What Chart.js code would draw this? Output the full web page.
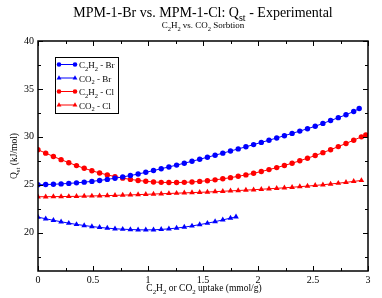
<!DOCTYPE html>
<html>
<head>
<meta charset="utf-8">
<script src="https://cdn.jsdelivr.net/npm/chart.js@4.4.1/dist/chart.umd.min.js"></script>
<style>
  html, body { margin: 0; padding: 0; background: #fff; }
  canvas { display: block; }
</style>
</head>
<body>
<canvas id="chart" width="382" height="298"></canvas>
<script>
// values
const brC2h2X = [0,0.07,0.14,0.21,0.28,0.35,0.42,0.49,0.56,0.63,0.70,0.77,0.84,0.91,0.98,1.05,1.12,1.19,1.26,1.33,1.40,1.47,1.54,1.61,1.68,1.75,1.82,1.89,1.96,2.03,2.10,2.17,2.24,2.31,2.38,2.45,2.52,2.59,2.66,2.73,2.80,2.87,2.92];
const brC2h2Y = [25.00,25.02,25.05,25.09,25.14,25.20,25.27,25.35,25.45,25.56,25.68,25.82,25.96,26.12,26.30,26.48,26.67,26.86,27.05,27.25,27.45,27.66,27.87,28.08,28.30,28.52,28.74,28.96,29.19,29.42,29.65,29.88,30.12,30.36,30.60,30.85,31.10,31.40,31.70,32.00,32.30,32.65,32.95];

const brCo2X = [0,0.07,0.14,0.21,0.28,0.35,0.42,0.49,0.56,0.63,0.70,0.77,0.84,0.91,0.98,1.05,1.12,1.19,1.26,1.33,1.40,1.47,1.54,1.61,1.68,1.75,1.80];
const brCo2Y = [21.62,21.45,21.29,21.14,20.99,20.86,20.75,20.64,20.55,20.47,20.41,20.36,20.33,20.30,20.29,20.30,20.34,20.40,20.48,20.58,20.70,20.84,20.99,21.15,21.33,21.52,21.65];

const clC2h2X = [0,0.07,0.14,0.21,0.28,0.35,0.42,0.49,0.56,0.63,0.70,0.77,0.84,0.91,0.98,1.05,1.12,1.19,1.26,1.33,1.40,1.47,1.54,1.61,1.68,1.75,1.82,1.89,1.96,2.03,2.10,2.17,2.24,2.31,2.38,2.45,2.52,2.59,2.66,2.73,2.80,2.87,2.94,2.98];
const clC2h2Y = [28.65,28.30,27.95,27.62,27.30,27.00,26.72,26.46,26.23,26.03,25.85,25.69,25.56,25.45,25.36,25.29,25.25,25.23,25.23,25.25,25.29,25.35,25.42,25.51,25.62,25.74,25.88,26.03,26.20,26.38,26.58,26.79,27.01,27.25,27.50,27.77,28.05,28.35,28.66,28.98,29.31,29.65,30.00,30.20];

const clCo2X = [0,0.07,0.14,0.21,0.28,0.35,0.42,0.49,0.56,0.63,0.70,0.77,0.84,0.91,0.98,1.05,1.12,1.19,1.26,1.33,1.40,1.47,1.54,1.61,1.68,1.75,1.82,1.89,1.96,2.03,2.10,2.17,2.24,2.31,2.38,2.45,2.52,2.59,2.66,2.73,2.80,2.87,2.94];
const clCo2Y = [23.75,23.75,23.76,23.77,23.78,23.79,23.81,23.83,23.85,23.87,23.89,23.92,23.94,23.97,24.00,24.03,24.06,24.09,24.12,24.15,24.18,24.21,24.24,24.28,24.32,24.36,24.40,24.44,24.48,24.53,24.58,24.63,24.68,24.74,24.80,24.86,24.93,25.00,25.08,25.16,25.25,25.35,25.45];

const seriesLabels = ['C_{2}H_{2} - Br', 'CO_{2} - Br', 'C_{2}H_{2} - Cl', 'CO_{2} - Cl'];
const xTicks = [0, 0.5, 1, 1.5, 2, 2.5, 3];
const xMinorTicks = [0.25, 0.75, 1.25, 1.75, 2.25, 2.75];
const yTicks = [20, 25, 30, 35, 40];
const yMinorTicks = [17.5, 22.5, 27.5, 32.5, 37.5];

const titleText = 'MPM-1-Br vs. MPM-1-Cl: Q_{st} - Experimental';
const subtitleText = 'C_{2}H_{2} vs. CO_{2} Sorbtion';
const xTitleText = 'C_{2}H_{2} or CO_{2} uptake (mmol/g)';
const yTitleText = 'Q_{st} (kJ/mol)';

const SERIF = '"Liberation Serif", "DejaVu Serif", serif';
const BLUE = '#0000ff';
const RED = '#ff0000';

const pts = (xs, ys) => xs.map((x, i) => ({ x: x, y: ys[i] }));

// split "C_{2}H_{2}" into plain / subscript runs
function parseRich(s) {
  const out = [];
  const re = /_\{([^}]*)\}/g;
  let last = 0, m;
  while ((m = re.exec(s))) {
    if (m.index > last) out.push([s.slice(last, m.index), false]);
    out.push([m[1], true]);
    last = re.lastIndex;
  }
  if (last < s.length) out.push([s.slice(last), false]);
  return out;
}

function richWidth(ctx, parts, size) {
  let w = 0;
  parts.forEach(([t, sub]) => {
    ctx.font = (sub ? size * 0.72 : size) + 'px ' + SERIF;
    w += ctx.measureText(t).width;
  });
  return w;
}

function drawRich(ctx, s, x, y, size, align) {
  const parts = parseRich(s);
  const w = richWidth(ctx, parts, size);
  let cx = align === 'center' ? x - w / 2 : x;
  ctx.textBaseline = 'alphabetic';
  ctx.textAlign = 'left';
  parts.forEach(([t, sub]) => {
    ctx.font = (sub ? size * 0.72 : size) + 'px ' + SERIF;
    ctx.fillText(t, cx, sub ? y + size * 0.3 : y);
    cx += ctx.measureText(t).width;
  });
}

const decor = {
  id: 'decor',
  afterDraw(chart) {
    const ctx = chart.ctx;
    const a = chart.chartArea;
    const xs = chart.scales.x, ys = chart.scales.y;
    ctx.save();
    ctx.fillStyle = '#000';
    ctx.strokeStyle = '#000';

    // frame and inward ticks on all four sides
    ctx.lineWidth = 1.5;
    ctx.strokeRect(a.left, a.top, a.right - a.left, a.bottom - a.top);
    ctx.lineWidth = 1;
    ctx.beginPath();
    const tickX = (v, len) => {
      const p = Math.round(xs.getPixelForValue(v)) + 0.5;
      ctx.moveTo(p, a.bottom); ctx.lineTo(p, a.bottom - len);
      ctx.moveTo(p, a.top); ctx.lineTo(p, a.top + len);
    };
    const tickY = (v, len) => {
      const p = Math.round(ys.getPixelForValue(v)) + 0.5;
      ctx.moveTo(a.left, p); ctx.lineTo(a.left + len, p);
      ctx.moveTo(a.right, p); ctx.lineTo(a.right - len, p);
    };
    xTicks.forEach(v => tickX(v, 5));
    xMinorTicks.forEach(v => tickX(v, 3));
    yTicks.forEach(v => tickY(v, 5));
    yMinorTicks.forEach(v => tickY(v, 3));
    ctx.stroke();

    // titles
    const mid = (a.left + a.right) / 2;
    drawRich(ctx, titleText, mid, 16.5, 14, 'center');
    drawRich(ctx, subtitleText, mid, 28, 9, 'center');
    drawRich(ctx, xTitleText, mid + 1, 291, 9.5, 'center');
    ctx.save();
    ctx.translate(17, (a.top + a.bottom) / 2);
    ctx.rotate(-Math.PI / 2);
    drawRich(ctx, yTitleText, 0, 0, 9.5, 'center');
    ctx.restore();

    // legend box
    const bx = 55, by = 57, bw = 63, bh = 56;
    ctx.fillStyle = '#fff';
    ctx.fillRect(bx, by, bw, bh);
    ctx.lineWidth = 1;
    ctx.strokeRect(bx + 0.5, by + 0.5, bw, bh);
    chart.data.datasets.forEach((ds, i) => {
      const y = by + 7.5 + i * 13.5;
      ctx.strokeStyle = ds.borderColor;
      ctx.lineWidth = 1;
      ctx.beginPath();
      ctx.moveTo(bx + 4, y); ctx.lineTo(bx + 20, y);
      ctx.stroke();
      ctx.fillStyle = ds.borderColor;
      [bx + 4, bx + 20].forEach(px => {
        Chart.helpers.drawPoint(ctx, { pointStyle: ds.pointStyle, radius: ds.pointRadius * 0.85, rotation: 0 }, px, y);
      });
      ctx.fillStyle = '#000';
      drawRich(ctx, seriesLabels[i], bx + 24, y + 3.5, 9, 'left');
    });
    ctx.restore();
  }
};

const mkSet = (data, color, style, r) => ({
  data: data,
  borderColor: color,
  backgroundColor: color,
  borderWidth: 1,
  pointStyle: style,
  pointRadius: r,
  pointBorderWidth: 0,
  pointHoverRadius: r,
  tension: 0,
  fill: false
});

new Chart(document.getElementById('chart'), {
  type: 'line',
  data: {
    datasets: [
      mkSet(pts(brC2h2X, brC2h2Y), BLUE, 'circle', 2.7),
      mkSet(pts(brCo2X, brCo2Y), BLUE, 'triangle', 3.3),
      mkSet(pts(clC2h2X, clC2h2Y), RED, 'circle', 2.7),
      mkSet(pts(clCo2X, clCo2Y), RED, 'triangle', 3.3)
    ]
  },
  options: {
    responsive: false,
    animation: false,
    devicePixelRatio: 1,
    layout: { padding: { top: 41, right: 14, left: 0, bottom: 0 } },
    plugins: { legend: { display: false }, tooltip: { enabled: false } },
    scales: {
      x: {
        type: 'linear', min: 0, max: 3,
        grid: { display: false, drawTicks: false },
        border: { display: false },
        afterBuildTicks: s => { s.ticks = xTicks.map(v => ({ value: v })); },
        afterFit: s => { s.height = 27; },
        ticks: { color: '#000', padding: 3, maxRotation: 0, font: { family: SERIF, size: 10 }, callback: v => String(v) }
      },
      y: {
        type: 'linear', min: 16, max: 40,
        grid: { display: false, drawTicks: false },
        border: { display: false },
        afterBuildTicks: s => { s.ticks = yTicks.map(v => ({ value: v })); },
        afterFit: s => { s.width = 38; },
        ticks: { color: '#000', padding: 4, font: { family: SERIF, size: 10 }, callback: v => String(v) }
      }
    }
  },
  plugins: [decor]
});
</script>
</body>
</html>
